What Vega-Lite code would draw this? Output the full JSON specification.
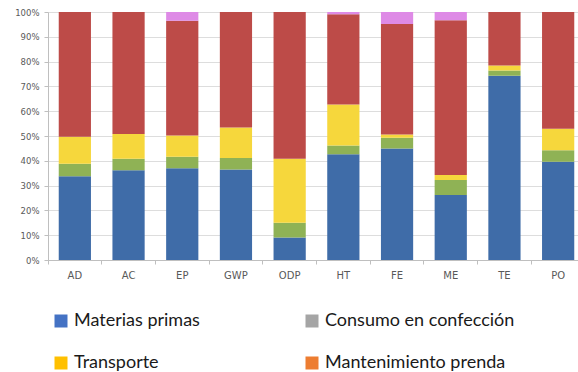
{
  "$schema": "https://vega.github.io/schema/vega-lite/v6.json",
  "width": 537,
  "height": 248,
  "autosize": "none",
  "padding": {"left": 48, "top": 12, "right": 0, "bottom": 112},
  "background": "white",
  "config": {
    "view": {"stroke": null},
    "axis": {
      "labelFont": "DejaVu Sans",
      "labelColor": "#595959",
      "domainColor": "#BFBFBF",
      "tickColor": "#BFBFBF",
      "gridColor": "#DDDDDD",
      "title": null
    }
  },
  "layer": [
    {
      "data": {
        "values": [
          {"categoria": "AD", "etapa": "Materias primas", "capa": 1, "porcentaje": 33.8},
          {"categoria": "AD", "etapa": "Consumo en confección", "capa": 2, "porcentaje": 5.0},
          {"categoria": "AD", "etapa": "Transporte", "capa": 3, "porcentaje": 10.9},
          {"categoria": "AD", "etapa": "Mantenimiento prenda", "capa": 4, "porcentaje": 50.3},
          {"categoria": "AD", "etapa": "Fin de vida", "capa": 5, "porcentaje": 0},

          {"categoria": "AC", "etapa": "Materias primas", "capa": 1, "porcentaje": 36.2},
          {"categoria": "AC", "etapa": "Consumo en confección", "capa": 2, "porcentaje": 4.6},
          {"categoria": "AC", "etapa": "Transporte", "capa": 3, "porcentaje": 10.0},
          {"categoria": "AC", "etapa": "Mantenimiento prenda", "capa": 4, "porcentaje": 49.2},
          {"categoria": "AC", "etapa": "Fin de vida", "capa": 5, "porcentaje": 0},

          {"categoria": "EP", "etapa": "Materias primas", "capa": 1, "porcentaje": 37.0},
          {"categoria": "EP", "etapa": "Consumo en confección", "capa": 2, "porcentaje": 4.6},
          {"categoria": "EP", "etapa": "Transporte", "capa": 3, "porcentaje": 8.6},
          {"categoria": "EP", "etapa": "Mantenimiento prenda", "capa": 4, "porcentaje": 46.3},
          {"categoria": "EP", "etapa": "Fin de vida", "capa": 5, "porcentaje": 3.5},

          {"categoria": "GWP", "etapa": "Materias primas", "capa": 1, "porcentaje": 36.5},
          {"categoria": "GWP", "etapa": "Consumo en confección", "capa": 2, "porcentaje": 4.6},
          {"categoria": "GWP", "etapa": "Transporte", "capa": 3, "porcentaje": 12.3},
          {"categoria": "GWP", "etapa": "Mantenimiento prenda", "capa": 4, "porcentaje": 46.6},
          {"categoria": "GWP", "etapa": "Fin de vida", "capa": 5, "porcentaje": 0},

          {"categoria": "ODP", "etapa": "Materias primas", "capa": 1, "porcentaje": 9.1},
          {"categoria": "ODP", "etapa": "Consumo en confección", "capa": 2, "porcentaje": 5.9},
          {"categoria": "ODP", "etapa": "Transporte", "capa": 3, "porcentaje": 25.8},
          {"categoria": "ODP", "etapa": "Mantenimiento prenda", "capa": 4, "porcentaje": 59.2},
          {"categoria": "ODP", "etapa": "Fin de vida", "capa": 5, "porcentaje": 0},

          {"categoria": "HT", "etapa": "Materias primas", "capa": 1, "porcentaje": 42.6},
          {"categoria": "HT", "etapa": "Consumo en confección", "capa": 2, "porcentaje": 3.6},
          {"categoria": "HT", "etapa": "Transporte", "capa": 3, "porcentaje": 16.5},
          {"categoria": "HT", "etapa": "Mantenimiento prenda", "capa": 4, "porcentaje": 36.4},
          {"categoria": "HT", "etapa": "Fin de vida", "capa": 5, "porcentaje": 0.9},

          {"categoria": "FE", "etapa": "Materias primas", "capa": 1, "porcentaje": 45.0},
          {"categoria": "FE", "etapa": "Consumo en confección", "capa": 2, "porcentaje": 4.3},
          {"categoria": "FE", "etapa": "Transporte", "capa": 3, "porcentaje": 1.3},
          {"categoria": "FE", "etapa": "Mantenimiento prenda", "capa": 4, "porcentaje": 44.6},
          {"categoria": "FE", "etapa": "Fin de vida", "capa": 5, "porcentaje": 4.8},

          {"categoria": "ME", "etapa": "Materias primas", "capa": 1, "porcentaje": 26.2},
          {"categoria": "ME", "etapa": "Consumo en confección", "capa": 2, "porcentaje": 6.1},
          {"categoria": "ME", "etapa": "Transporte", "capa": 3, "porcentaje": 2.0},
          {"categoria": "ME", "etapa": "Mantenimiento prenda", "capa": 4, "porcentaje": 62.4},
          {"categoria": "ME", "etapa": "Fin de vida", "capa": 5, "porcentaje": 3.3},

          {"categoria": "TE", "etapa": "Materias primas", "capa": 1, "porcentaje": 74.3},
          {"categoria": "TE", "etapa": "Consumo en confección", "capa": 2, "porcentaje": 2.1},
          {"categoria": "TE", "etapa": "Transporte", "capa": 3, "porcentaje": 2.0},
          {"categoria": "TE", "etapa": "Mantenimiento prenda", "capa": 4, "porcentaje": 21.6},
          {"categoria": "TE", "etapa": "Fin de vida", "capa": 5, "porcentaje": 0},

          {"categoria": "PO", "etapa": "Materias primas", "capa": 1, "porcentaje": 39.6},
          {"categoria": "PO", "etapa": "Consumo en confección", "capa": 2, "porcentaje": 4.7},
          {"categoria": "PO", "etapa": "Transporte", "capa": 3, "porcentaje": 8.6},
          {"categoria": "PO", "etapa": "Mantenimiento prenda", "capa": 4, "porcentaje": 47.1},
          {"categoria": "PO", "etapa": "Fin de vida", "capa": 5, "porcentaje": 0}
        ]
      },
      "mark": {"type": "bar"},
      "encoding": {
        "x": {
          "field": "categoria",
          "type": "nominal",
          "sort": null,
          "scale": {"paddingInner": 0.4, "paddingOuter": 0.2},
          "axis": {
            "labelAngle": 0,
            "labelFontSize": 10,
            "labelPadding": 6,
            "tickSize": 4,
            "bandPosition": -0.333,
            "grid": false
          }
        },
        "y": {
          "field": "porcentaje",
          "type": "quantitative",
          "stack": "normalize",
          "scale": {"domain": [0, 1], "nice": false},
          "axis": {
            "format": ".0%",
            "values": [0, 0.1, 0.2, 0.3, 0.4, 0.5, 0.6, 0.7, 0.8, 0.9, 1],
            "labelFontSize": 8.5,
            "labelPadding": 5,
            "tickSize": 4,
            "grid": true
          }
        },
        "color": {
          "field": "etapa",
          "type": "nominal",
          "scale": {
            "domain": ["Materias primas", "Consumo en confección", "Transporte", "Mantenimiento prenda", "Fin de vida"],
            "range": ["#3F6CA8", "#8FB255", "#F6D73C", "#BD4B48", "#DE8AE6"]
          },
          "legend": null
        },
        "order": {"field": "capa", "type": "quantitative"}
      }
    },
    {
      "data": {"values": []},
      "mark": {"type": "square"},
      "encoding": {
        "fill": {
          "field": "etapa",
          "type": "nominal",
          "scale": {
            "domain": ["Materias primas", "Consumo en confección", "Transporte", "Mantenimiento prenda"],
            "range": ["#4472C4", "#A5A5A5", "#FFC000", "#ED7D31"]
          },
          "legend": {
            "title": null,
            "orient": "none",
            "direction": "horizontal",
            "legendX": 4,
            "legendY": 300,
            "columns": 2,
            "columnPadding": 103,
            "rowPadding": 24,
            "padding": 0,
            "symbolType": "square",
            "symbolSize": 169,
            "symbolStrokeWidth": 0,
            "symbolOpacity": 1,
            "labelFont": "Lato",
            "labelFontSize": 18,
            "labelColor": "#1A1A1A",
            "labelOffset": 4,
            "labelLimit": 300
          }
        }
      }
    }
  ]
}
